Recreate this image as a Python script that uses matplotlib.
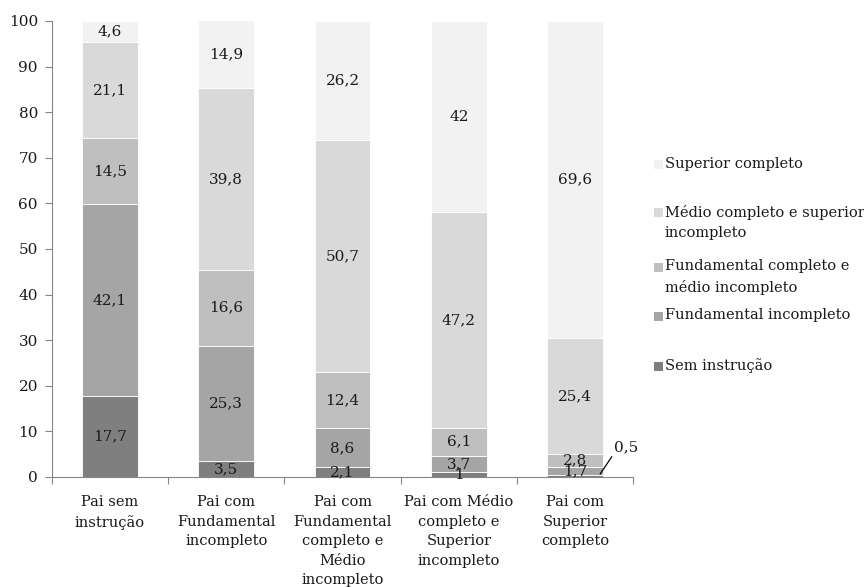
import numpy as np
import matplotlib
matplotlib.use("Agg")
import matplotlib.pyplot as plt
from matplotlib.patches import Rectangle

plt.rcParams["font.family"] = ["DejaVu Serif"]

categories = ["Pai sem\ninstrução",
              "Pai com\nFundamental\nincompleto",
              "Pai com\nFundamental\ncompleto e\nMédio\nincompleto",
              "Pai com Médio\ncompleto e\nSuperior\nincompleto",
              "Pai com\nSuperior\ncompleto"]
series = ["Sem instrução", "Fundamental incompleto",
          "Fundamental completo e\nmédio incompleto",
          "Médio completo e superior\nincompleto", "Superior completo"]
sem_instrucao = [17.7, 3.5, 2.1, 1, 0.5]
fund_incompleto = [42.1, 25.3, 8.6, 3.7, 1.7]
fund_completo = [14.5, 16.6, 12.4, 6.1, 2.8]
medio_completo = [21.1, 39.8, 50.7, 47.2, 25.4]
superior = [4.6, 14.9, 26.2, 42, 69.6]
values = [sem_instrucao, fund_incompleto, fund_completo, medio_completo, superior]
colors = ["#7f7f7f", "#a5a5a5", "#bfbfbf", "#d9d9d9", "#f2f2f2"]

fig = plt.figure(figsize=(8.64, 5.87), dpi=100)
ax = fig.add_axes([0.060, 0.1874, 0.673, 0.777])

x = np.arange(len(categories))
bottom = np.zeros(len(categories))
for vals, col in zip(values, colors):
    vals = np.array(vals, dtype=float)
    ax.bar(x, vals, 0.48, bottom=bottom, color=col, edgecolor="white", linewidth=0.6)
    for i, v in enumerate(vals):
        lab = f"{v:g}".replace(".", ",")
        if i == 4 and v == 0.5:
            # small segment, label outside with a leader line
            ax.annotate(lab, xy=(i + 0.215, bottom[i] + v / 2 + 0.4), xytext=(i + 0.335, 6.6),
                        fontsize=11, color="#1a1a1a", ha="left", va="center",
                        arrowprops=dict(arrowstyle="-", color="black", lw=0.9,
                                        shrinkA=0, shrinkB=0,
                                        relpos=(0.0, 0.05)))
        else:
            ax.text(i, bottom[i] + v / 2, lab, ha="center", va="center",
                    fontsize=11, color="#1a1a1a")
    bottom += vals

ax.set_xlim(-0.5, 4.5)
ax.set_ylim(0, 100)
ax.set_yticks(range(0, 101, 10))
ax.set_xticks(np.arange(-0.5, 5, 1))
ax.set_xticklabels([])
ax.set_xticks(x, minor=True)
ax.set_xticklabels(categories, minor=True, fontsize=10.5, color="#1a1a1a",
                   linespacing=1.5, va="top")
ax.tick_params(axis="x", which="minor", length=0, pad=13)
ax.tick_params(axis="x", which="major", length=5, color="#868686")
ax.tick_params(axis="y", length=5, color="#868686", labelsize=11,
               labelcolor="#1a1a1a", pad=5)
for s in ["top", "right"]:
    ax.spines[s].set_visible(False)
for s in ["left", "bottom"]:
    ax.spines[s].set_color("#868686")

# legend drawn by hand so the swatch lines up with the first text line
leg_y = [165, 213, 267, 316, 366]
for lab, col, yp in zip(series[::-1], colors[::-1], leg_y):
    fy = 1 - yp / 587
    fig.patches.append(Rectangle((654 / 864, fy - 4.5 / 587), 9 / 864, 9 / 587,
                                 transform=fig.transFigure, facecolor=col,
                                 edgecolor="none"))
    fig.text(665 / 864, fy + 8 / 587, lab, ha="left", va="top", fontsize=10.5,
             color="#1a1a1a", linespacing=1.55)

fig.savefig("out.png", dpi=100, facecolor="white")
